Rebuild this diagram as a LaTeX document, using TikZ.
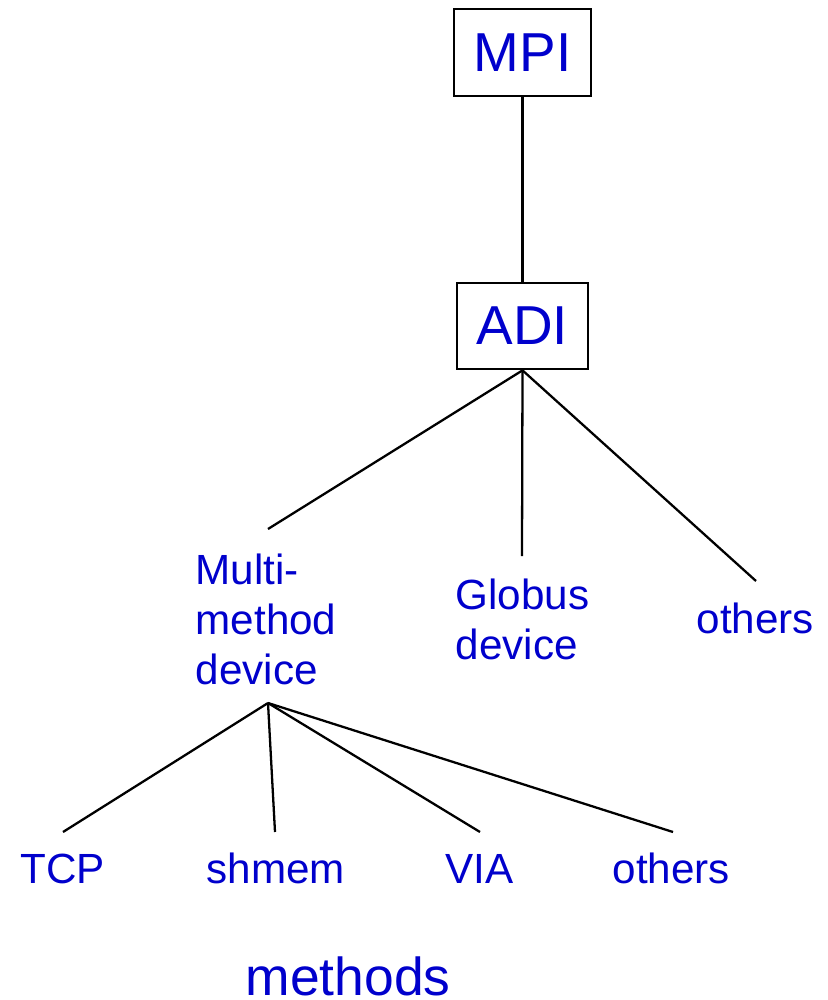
\documentclass[tikz,border=0pt]{standalone}
\usepackage{fontspec}
\setmainfont{Liberation Sans}
\usepackage{xcolor}
\usepackage{tikz}
\usetikzlibrary{positioning}
\definecolor{labelblue}{RGB}{0,0,204}

\begin{document}
\begin{tikzpicture}[
    x=0.01cm, y=-0.01cm,
    kotak/.style={draw, line width=0.75pt, inner sep=0pt, text=labelblue,
                  font=\fontsize{15.6}{19}\selectfont},
    lbl/.style={inner sep=0pt, text=labelblue, align=left,
                font=\fontsize{12}{14.2}\selectfont},
    link/.style={line width=0.65pt}
  ]
    \useasboundingbox (0,0) rectangle (827,1000);
    % upper part
    \node[kotak, minimum width=1.37cm, minimum height=0.87cm] (mpi) at (522.5,52.5) {MPI};
    \node[kotak, minimum width=1.31cm, minimum height=0.86cm] (adi) at (522.5,326) {ADI};
    \node[lbl, anchor=north west] (multi)  at (195,553) {Multi-\\method\\device};
    \node[lbl, anchor=north west] (globus) at (455,578) {Globus\\device};
    \node[lbl, anchor=base west]  (others) at (696,633) {others};
    % methods
    \node[lbl, anchor=base west] (tcp)     at (20,883)  {TCP};
    \node[lbl, anchor=base west] (shmem)   at (206,883) {shmem};
    \node[lbl, anchor=base west] (via)     at (445,883) {VIA};
    \node[lbl, anchor=base west] (othersm) at (612,883) {others};
    \node[lbl, anchor=base west, font=\fontsize{15.2}{18}\selectfont] (methods) at (245,995) {methods};
    % line ends
    \coordinate (multi-in)   at (268,529);
    \coordinate (globus-in)  at (522,556);
    \coordinate (others-in)  at (756,581);
    \coordinate (multi-out)  at (268,703);
    \coordinate (tcp-in)     at (63,832);
    \coordinate (shmem-in)   at (275,832);
    \coordinate (via-in)     at (480,832);
    \coordinate (othersm-in) at (673,832);
    \draw[link] (mpi.south) -- (adi.north);
    \foreach \n in {multi,globus,others}
      \draw[link] (adi.south) -- (\n-in);
    \foreach \n in {tcp,shmem,via,othersm}
      \draw[link] (multi-out) -- (\n-in);
  \end{tikzpicture}
\end{document}
